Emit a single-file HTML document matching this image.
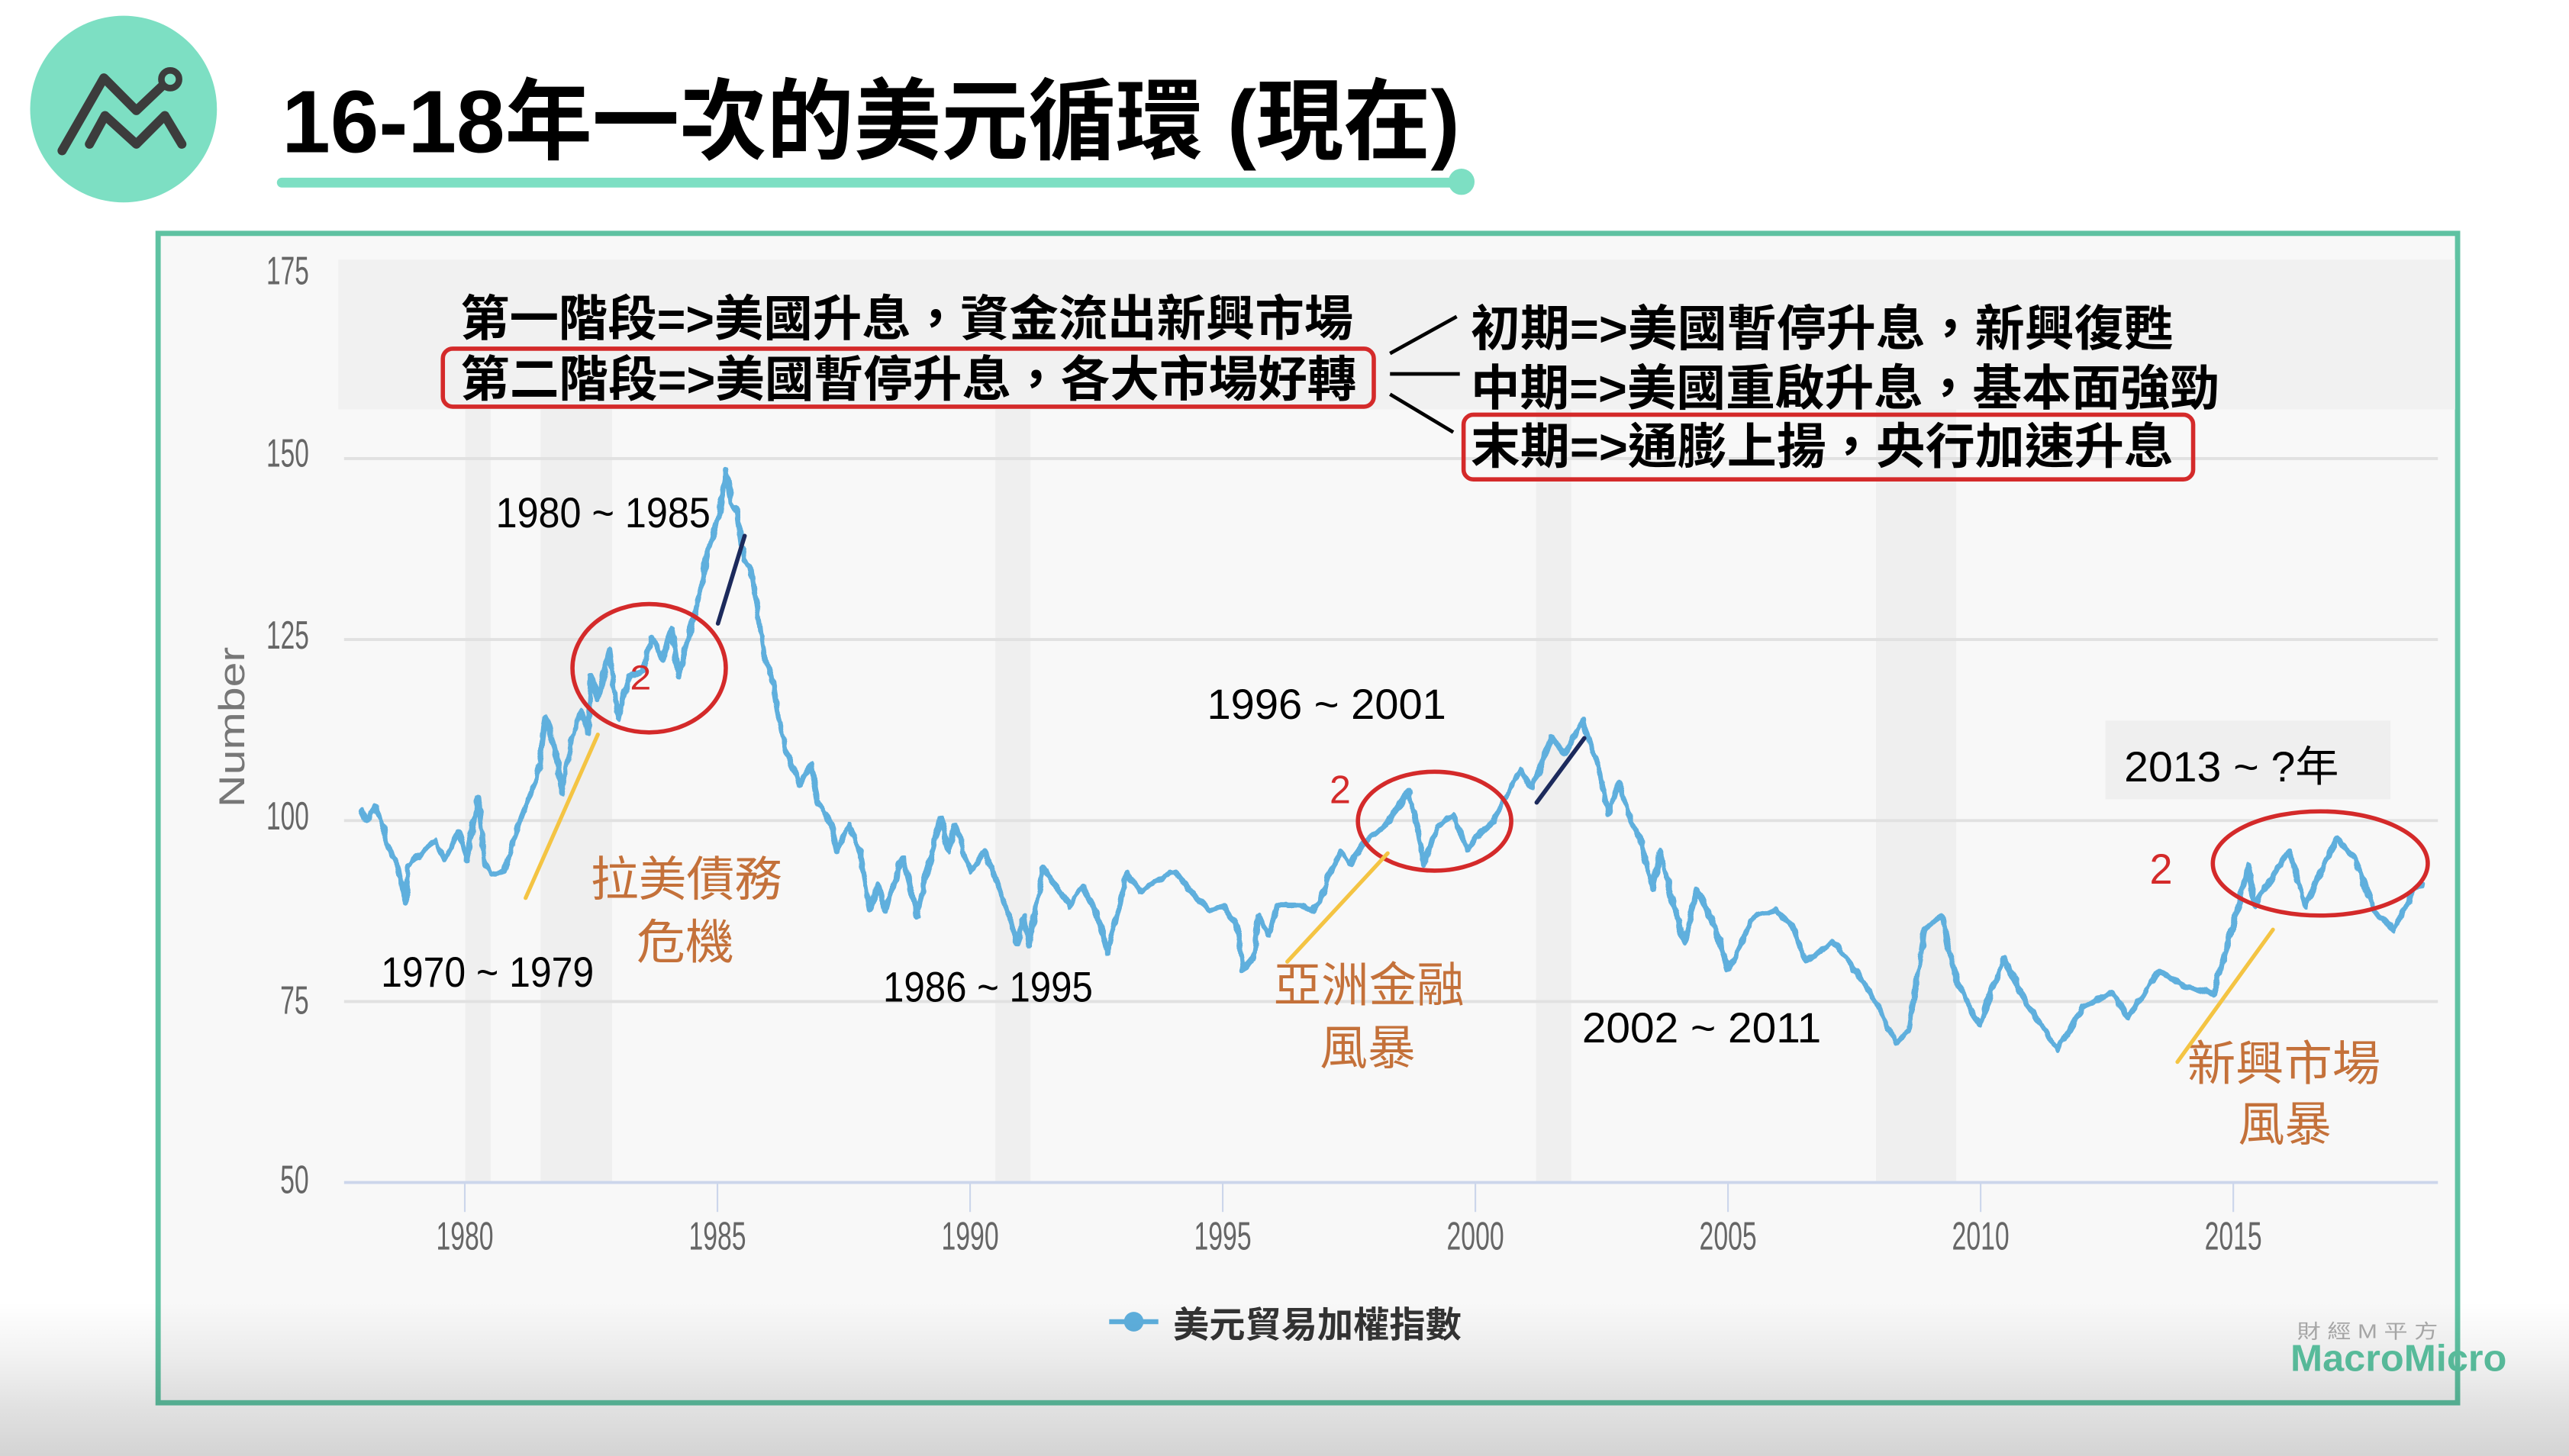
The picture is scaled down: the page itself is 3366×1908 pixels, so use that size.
<!DOCTYPE html>
<html>
<head>
<meta charset="utf-8">
<style>
html,body{margin:0;padding:0;background:#fff;overflow:hidden;}
svg{display:block;}
.cjk{font-family:"Liberation Sans","Noto Sans CJK TC","Noto Sans CJK SC",sans-serif;}
.lat{font-family:"Liberation Sans",sans-serif;}
</style>
</head>
<body>
<svg width="3366" height="1908" viewBox="0 0 1568 889" preserveAspectRatio="none" xmlns="http://www.w3.org/2000/svg">
  <defs>
    <linearGradient id="vig" x1="0" y1="0" x2="0" y2="1">
      <stop offset="0" stop-color="#000" stop-opacity="0"/>
      <stop offset="0.35" stop-color="#000" stop-opacity="0.05"/>
      <stop offset="0.7" stop-color="#000" stop-opacity="0.12"/>
      <stop offset="1" stop-color="#000" stop-opacity="0.17"/>
    </linearGradient>
    <filter id="jag" filterUnits="userSpaceOnUse" x="200" y="260" width="1310" height="420">
      <feTurbulence type="fractalNoise" baseFrequency="0.18 0.12" numOctaves="2" seed="4" result="n"/>
      <feDisplacementMap in="SourceGraphic" in2="n" scale="3.6" xChannelSelector="R" yChannelSelector="G"/>
    </filter>
  </defs>
  <rect x="0" y="0" width="1568" height="889" fill="#ffffff"/>

  <!-- Logo -->
  <circle cx="75.4" cy="66.6" r="57" fill="#7ddfc3"/>
  <g fill="none" stroke="#3c3c3c" stroke-width="5.6" stroke-linecap="round" stroke-linejoin="round">
    <path d="M37.9,92 L63.4,47.6 L83.2,67.5 L99,52.5"/>
    <path d="M54.6,88 L64.1,70.6 L83.2,88 L100.6,70.6 L111,88"/>
    <circle cx="103.9" cy="48.4" r="5.4" stroke-width="4"/>
  </g>

  <!-- Title -->
  <text class="cjk" x="172" y="93" font-size="54" font-weight="700" fill="#000" textLength="719" lengthAdjust="spacingAndGlyphs">16-18年一次的美元循環 (現在)</text>
  <line x1="172" y1="111.5" x2="888" y2="111.5" stroke="#7ddfc3" stroke-width="6" stroke-linecap="round"/>
  <circle cx="892" cy="111" r="8" fill="#7ddfc3"/>

  <!-- Chart box -->
  <rect x="96.5" y="142.5" width="1403.5" height="714" fill="#f8f8f8" stroke="#5fc2a2" stroke-width="3.2"/>

  <!-- Recession bands -->
  <g fill="#efefef">
    <rect x="284" y="163" width="15.5" height="559"/>
    <rect x="330" y="163" width="43.6" height="559"/>
    <rect x="607.5" y="163" width="21.5" height="559"/>
    <rect x="937.5" y="163" width="21.5" height="559"/>
    <rect x="1145" y="163" width="49" height="559"/>
  </g>

  <!-- Gridlines -->
  <g stroke="#e1e1e1" stroke-width="1.8">
    <line x1="210" y1="280" x2="1488" y2="280"/>
    <line x1="210" y1="390.5" x2="1488" y2="390.5"/>
    <line x1="210" y1="501" x2="1488" y2="501"/>
    <line x1="210" y1="611.5" x2="1488" y2="611.5"/>
  </g>
  <!-- X axis -->
  <line x1="210" y1="722" x2="1488" y2="722" stroke="#ccd6eb" stroke-width="1.8"/>
  <g stroke="#ccd6eb" stroke-width="1">
    <line x1="283.7" y1="722" x2="283.7" y2="740"/>
    <line x1="437.9" y1="722" x2="437.9" y2="740"/>
    <line x1="592.1" y1="722" x2="592.1" y2="740"/>
    <line x1="746.3" y1="722" x2="746.3" y2="740"/>
    <line x1="900.5" y1="722" x2="900.5" y2="740"/>
    <line x1="1054.7" y1="722" x2="1054.7" y2="740"/>
    <line x1="1208.9" y1="722" x2="1208.9" y2="740"/>
    <line x1="1363.1" y1="722" x2="1363.1" y2="740"/>
  </g>
  <g class="lat" font-size="24" fill="#666" text-anchor="middle">
    <text x="283.7" y="763" textLength="35" lengthAdjust="spacingAndGlyphs">1980</text>
    <text x="437.9" y="763" textLength="35" lengthAdjust="spacingAndGlyphs">1985</text>
    <text x="592.1" y="763" textLength="35" lengthAdjust="spacingAndGlyphs">1990</text>
    <text x="746.3" y="763" textLength="35" lengthAdjust="spacingAndGlyphs">1995</text>
    <text x="900.5" y="763" textLength="35" lengthAdjust="spacingAndGlyphs">2000</text>
    <text x="1054.7" y="763" textLength="35" lengthAdjust="spacingAndGlyphs">2005</text>
    <text x="1208.9" y="763" textLength="35" lengthAdjust="spacingAndGlyphs">2010</text>
    <text x="1363.1" y="763" textLength="35" lengthAdjust="spacingAndGlyphs">2015</text>
  </g>
  <!-- Y labels -->
  <g class="lat" font-size="24" fill="#666">
    <text x="162.6" y="173.5" textLength="26" lengthAdjust="spacingAndGlyphs">175</text>
    <text x="162.6" y="285" textLength="26" lengthAdjust="spacingAndGlyphs">150</text>
    <text x="162.6" y="396" textLength="26" lengthAdjust="spacingAndGlyphs">125</text>
    <text x="162.6" y="506.5" textLength="26" lengthAdjust="spacingAndGlyphs">100</text>
    <text x="171" y="619" textLength="17.5" lengthAdjust="spacingAndGlyphs">75</text>
    <text x="171" y="728.5" textLength="17.5" lengthAdjust="spacingAndGlyphs">50</text>
  </g>
  <text class="lat" transform="translate(149,444) rotate(-90)" font-size="22" fill="#777" text-anchor="middle" textLength="98" lengthAdjust="spacingAndGlyphs">Number</text>

  <!-- Annotation boxes -->
  <rect x="206.5" y="158.5" width="1292" height="91.5" fill="#f1f1f1"/>
  <rect x="1285" y="440" width="174" height="48" fill="#efefef"/>

  <!-- Series -->
  <polyline id="ser" filter="url(#jag)" fill="none" stroke="#5eafdd" stroke-width="3.4" stroke-linejoin="round" stroke-linecap="round"
   points="221,494 224,502 229,492 233,503 237,517 242,527 248,551 249,529 258,520 266,513 271,525 280,508 285,525 292,487 296,527 300,534 308,532 313,515 320,494 328,475 333,438 339,458 343,484 349,451 355,434 359,448 361,413 365,427 372,396 377,439 384,413 392,410 398,389 404,403 410,384 414,413 422,382 427,363 432,337 438,318 440,306 443,287 446,306 450,313 454,342 458,346 462,370 466,399 471,413 475,437 480,460 488,479 495,467 499,489 507,503 511,520 518,503 525,520 531,555 536,540 540,556 551,523 560,559 564,540 574,499 579,520 583,504 592,532 601,520 607,535 616,559 621,576 625,559 628,577 637,530 646,543 653,553 661,541 670,559 676,582 688,533 697,545 702,540 717,532 726,543 738,556 747,553 756,569 759,592 765,585 768,559 774,571 780,553 792,553 801,556 806,550 812,532 818,520 824,527 833,514 842,507 848,501 860,483 866,510 869,527 878,504 887,497 896,519 902,510 911,502 916,492 928,470 935,481 947,450 955,460 966,440 976,470 982,497 988,478 995,500 1001,512 1009,543 1013,520 1020,547 1028,575 1036,543 1047,567 1055,592 1071,559 1084,556 1094,565 1102,587 1119,575 1136,598 1148,618 1158,637 1165,629 1175,567 1185,559 1194,598 1208,626 1223,585 1237,613 1256,641 1271,615 1289,606 1299,621 1318,593 1333,602 1351,607 1358,582 1368,547 1372,528 1376,553 1397,519 1407,553 1426,512 1438,525 1449,556 1461,568 1474,543 1478,540"/>

  <!-- Top annotation texts -->
  <g class="cjk" font-weight="700" fill="#000" font-size="30">
    <text x="281" y="205" textLength="545" lengthAdjust="spacingAndGlyphs">第一階段=&gt;美國升息，資金流出新興市場</text>
    <text x="281" y="242" textLength="547" lengthAdjust="spacingAndGlyphs">第二階段=&gt;美國暫停升息，各大市場好轉</text>
    <text x="897.6" y="211" textLength="429" lengthAdjust="spacingAndGlyphs">初期=&gt;美國暫停升息，新興復甦</text>
    <text x="897.6" y="247.5" textLength="457" lengthAdjust="spacingAndGlyphs">中期=&gt;美國重啟升息，基本面強勁</text>
    <text x="897.6" y="283" textLength="429" lengthAdjust="spacingAndGlyphs">末期=&gt;通膨上揚，央行加速升息</text>
  </g>
  <g fill="none" stroke="#d42a2a" stroke-width="2.6">
    <rect x="270.3" y="212.9" width="568.2" height="35.4" rx="6"/>
    <rect x="893.3" y="253.2" width="445.3" height="39.5" rx="6"/>
  </g>
  <g stroke="#000" stroke-width="2.2" fill="none">
    <line x1="848.4" y1="215.8" x2="889.1" y2="193.3"/>
    <line x1="848.4" y1="228.3" x2="891" y2="228.3"/>
    <line x1="848.4" y1="240.7" x2="887" y2="263.9"/>
  </g>

  <!-- Period labels -->
  <g class="lat" font-size="26" fill="#000">
    <text x="302.6" y="322" textLength="131" lengthAdjust="spacingAndGlyphs">1980 ~ 1985</text>
    <text x="232.5" y="602.5" textLength="130" lengthAdjust="spacingAndGlyphs">1970 ~ 1979</text>
    <text x="539" y="611.5" textLength="128" lengthAdjust="spacingAndGlyphs">1986 ~ 1995</text>
    <text x="736.7" y="439" textLength="146" lengthAdjust="spacingAndGlyphs">1996 ~ 2001</text>
    <text x="965.6" y="636.5" textLength="146" lengthAdjust="spacingAndGlyphs">2002 ~ 2011</text>
  </g>
  <text class="cjk" x="1296.5" y="477" font-size="26" fill="#000" textLength="131" lengthAdjust="spacingAndGlyphs">2013 ~ ?年</text>

  <!-- Orange crisis labels -->
  <g class="cjk" font-size="29" fill="#c4713a">
    <text x="360.5" y="547" textLength="117" lengthAdjust="spacingAndGlyphs">拉美債務</text>
    <text x="388.5" y="585.5" textLength="59.5" lengthAdjust="spacingAndGlyphs">危機</text>
    <text x="777.3" y="611.5" textLength="116.5" lengthAdjust="spacingAndGlyphs">亞洲金融</text>
    <text x="805.5" y="650" textLength="58.5" lengthAdjust="spacingAndGlyphs">風暴</text>
    <text x="1335" y="659.5" textLength="118" lengthAdjust="spacingAndGlyphs">新興市場</text>
    <text x="1366" y="696.5" textLength="57" lengthAdjust="spacingAndGlyphs">風暴</text>
  </g>

  <!-- Red circles and "2" -->
  <g fill="none" stroke="#d42a2a" stroke-width="2.6">
    <ellipse cx="396.2" cy="408" rx="46.8" ry="39.2"/>
    <ellipse cx="875.6" cy="501.4" rx="46.8" ry="30.2"/>
    <ellipse cx="1416.2" cy="527.2" rx="65.6" ry="31.8"/>
  </g>
  <g class="lat" fill="#d42a2a">
    <text x="384.5" y="421" font-size="21" textLength="13" lengthAdjust="spacingAndGlyphs">2</text>
    <text x="811.5" y="490.5" font-size="24" textLength="13" lengthAdjust="spacingAndGlyphs">2</text>
    <text x="1312" y="539.5" font-size="26" textLength="14" lengthAdjust="spacingAndGlyphs">2</text>
  </g>

  <!-- Yellow & navy lines -->
  <g stroke="#f4c443" stroke-width="2.4" stroke-linecap="round">
    <line x1="320.8" y1="548.3" x2="364.9" y2="448.5"/>
    <line x1="785.7" y1="587.2" x2="847" y2="521"/>
    <line x1="1329" y1="648.4" x2="1387.3" y2="567.6"/>
  </g>
  <g stroke="#1c2a5c" stroke-width="2.6" stroke-linecap="round">
    <line x1="438.2" y1="380.7" x2="454.5" y2="327.2"/>
    <line x1="937.9" y1="490" x2="967" y2="450.7"/>
  </g>

  <!-- Legend -->
  <line x1="677" y1="807" x2="707" y2="807" stroke="#5eafdd" stroke-width="3"/>
  <circle cx="692" cy="807" r="6" fill="#5eafdd"/>
  <text class="cjk" x="716" y="816.5" font-size="22" font-weight="700" fill="#333" textLength="176" lengthAdjust="spacingAndGlyphs">美元貿易加權指數</text>

  <!-- Watermark -->
  <text class="cjk" x="1402" y="817" font-size="12" fill="#aaaaaa" textLength="86" lengthAdjust="spacingAndGlyphs">財 經 M 平 方</text>
  <text class="lat" x="1398" y="837" font-size="23" font-weight="700" fill="#5cc4a2" textLength="132" lengthAdjust="spacingAndGlyphs">MacroMicro</text>

  <!-- bottom vignette -->
  <rect x="0" y="795" width="1568" height="94" fill="url(#vig)"/>
</svg>
</body>
</html>
